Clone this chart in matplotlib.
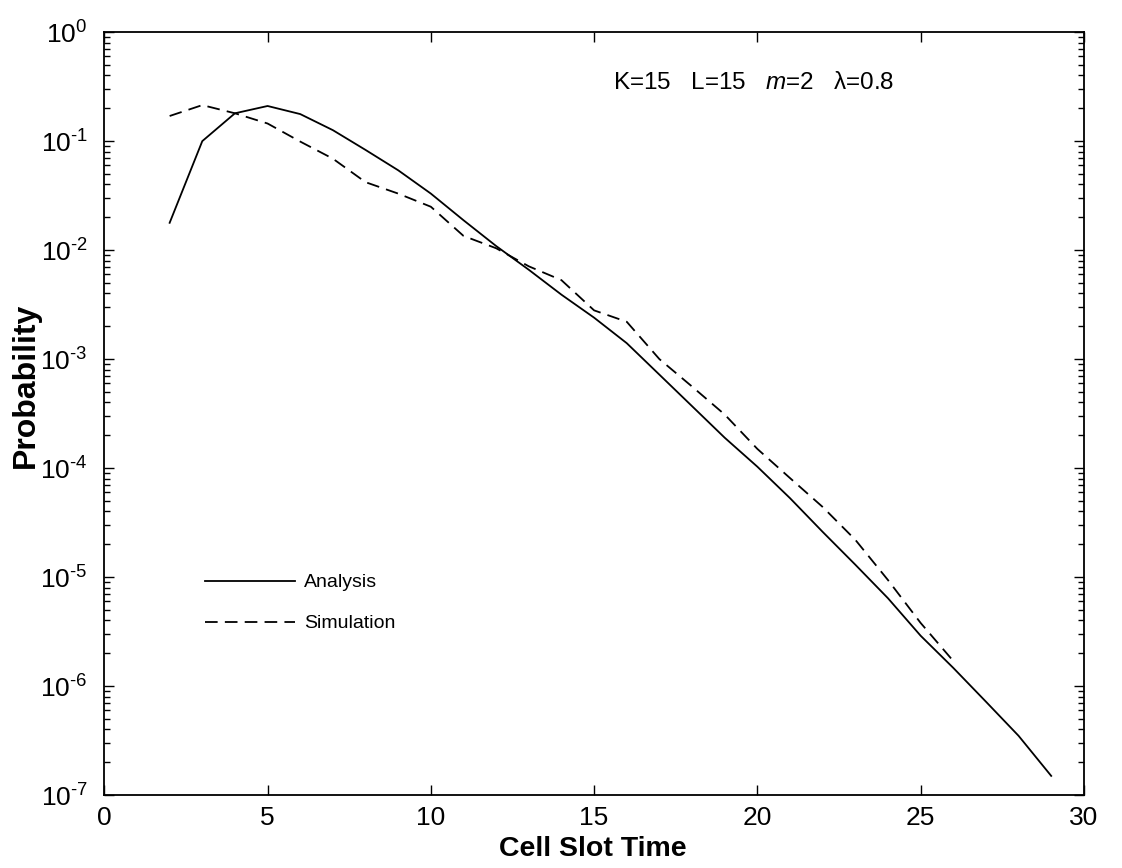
import numpy as np
import matplotlib
matplotlib.use("Agg")
import matplotlib.pyplot as plt
from matplotlib.ticker import FuncFormatter, NullFormatter

# Значення
slot_analysis = [2, 3, 4, 5, 6, 7, 8, 9, 10, 11, 12, 13, 14, 15, 16, 17, 18, 19,
                 20, 21, 22, 23, 24, 25, 26, 27, 28, 29]
prob_analysis = [0.0178, 0.10, 0.18, 0.21, 0.177, 0.126, 0.083, 0.054, 0.033,
                 0.0188, 0.0109, 0.0066, 0.0039, 0.0024, 0.0014, 7.2e-4, 3.7e-4,
                 1.9e-4, 1.03e-4, 5.3e-5, 2.6e-5, 1.3e-5, 6.4e-6, 2.9e-6,
                 1.47e-6, 7.2e-7, 3.5e-7, 1.5e-7]

slot_sim = [2, 3, 4, 5, 6, 7, 8, 9, 10, 11, 12, 13, 14, 15, 16, 17, 18, 19,
            20, 21, 22, 23, 24, 25, 26]
prob_sim = [0.17, 0.214, 0.18, 0.145, 0.099, 0.069, 0.042, 0.033, 0.025,
            0.0135, 0.0104, 0.0071, 0.0053, 0.0028, 0.0022, 1.0e-3, 5.6e-4,
            3.1e-4, 1.5e-4, 8.1e-5, 4.4e-5, 2.2e-5, 9.4e-6, 3.8e-6, 1.7e-6]

params_text = r"K=15   L=15   $\it{m}$=2   λ=0.8"

plt.rcParams['font.family'] = ['Liberation Sans', 'DejaVu Sans']
plt.rcParams['mathtext.fontset'] = 'custom'
plt.rcParams['mathtext.rm'] = 'Liberation Sans'
plt.rcParams['mathtext.it'] = 'Liberation Sans:italic'
plt.rcParams['mathtext.bf'] = 'Liberation Sans:bold'


def decade_label(v, pos):
    e = int(round(np.log10(v)))
    return r'$10^{\text{%d}}$' % e


fig = plt.figure(figsize=(11.22, 8.68), dpi=100)
ax = fig.add_axes([0.093, 0.084, 0.873, 0.879])

ax.semilogy(slot_analysis, prob_analysis, 'k-', lw=1.3, label='Analysis')
ax.semilogy(slot_sim, prob_sim, 'k--', lw=1.3, dashes=(7, 4), label='Simulation')

ax.set_xlim(0, 30)
ax.set_ylim(1e-7, 1e0)
ax.set_xticks([0, 5, 10, 15, 20, 25, 30])
ax.yaxis.set_major_formatter(FuncFormatter(decade_label))
ax.yaxis.set_minor_formatter(NullFormatter())
ax.tick_params(which='both', direction='in', top=True, right=True, width=1)
ax.tick_params(which='major', length=7)
ax.tick_params(which='minor', length=4)
ax.tick_params(axis='x', which='minor', bottom=False, top=False)
ax.tick_params(axis='x', labelsize=19, pad=8)
ax.tick_params(axis='y', labelsize=19, pad=12)
for s in ax.spines.values():
    s.set_linewidth(1.3)

ax.set_xlabel('Cell Slot Time', fontsize=20.5, fontweight='bold')
ax.xaxis.set_label_coords(0.499, -0.054)
ax.set_ylabel('Probability', fontsize=23, fontweight='bold')
ax.yaxis.set_label_coords(-0.065, 0.537)

ax.text(15.57, 0.34, params_text, fontsize=17.5, va='center', ha='left')

ax.legend(loc='upper left', bbox_to_anchor=(0.103, 0.29), frameon=False,
          fontsize=14, handlelength=4.6, handletextpad=0.5, labelspacing=1.2,
          borderaxespad=0, borderpad=0)

fig.savefig('out.png', dpi=100)
